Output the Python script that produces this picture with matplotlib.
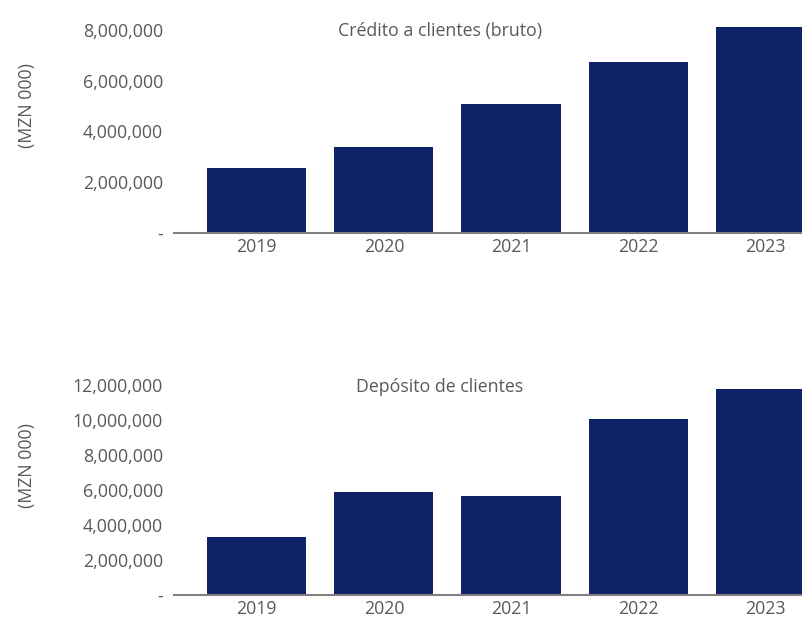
import matplotlib.pyplot as plt
from matplotlib.ticker import FuncFormatter

years = ["2019", "2020", "2021", "2022", "2023"]
credito = [2560000, 3390000, 5080000, 6740000, 8100000]
depositos = [3310000, 5890000, 5660000, 10080000, 11750000]

credito_ticks = [0, 2000000, 4000000, 6000000, 8000000]
deposito_ticks = [0, 2000000, 4000000, 6000000, 8000000, 10000000, 12000000]

BAR = "#0f2167"
TXT = "#595959"
FS = 12.8

plt.rcParams["font.family"] = ["Open Sans", "DejaVu Sans"]

W, H = 803, 618
fig = plt.figure(figsize=(W / 100, H / 100), dpi=100)


def fmt(v, pos):
    return "-" if v == 0 else f"{v:,.0f}"


def panel(bottom_px, top_px, values, ticks, ymax, title, title_y, label_y):
    ax = fig.add_axes([174 / W, 1 - bottom_px / H, 1 - 174 / W, (bottom_px - top_px) / H])
    x = range(len(years))
    ax.bar(x, values, width=0.78, color=BAR, zorder=2)
    ax.set_xlim(-0.65, 4.295)
    ax.set_ylim(0, ymax)
    ax.set_yticks(ticks)
    ax.yaxis.set_major_formatter(FuncFormatter(fmt))
    ax.set_xticks(list(x))
    ax.set_xticklabels(years)
    for s in ["top", "right", "left"]:
        ax.spines[s].set_visible(False)
    ax.spines["bottom"].set_color("#808080")
    ax.spines["bottom"].set_linewidth(1.5)
    ax.spines["bottom"].set_zorder(3)
    ax.tick_params(axis="y", length=0, pad=8, labelsize=FS, labelcolor=TXT)
    ax.tick_params(axis="x", length=0, pad=3.5, labelsize=FS, labelcolor=TXT)
    fig.text(440 / W, 1 - title_y / H, title, ha="center", va="center",
             fontsize=FS, color=TXT)
    fig.text(27 / W, 1 - label_y / H, "(MZN 000)", ha="center", va="center",
             rotation=90, fontsize=FS, color=TXT)
    return ax


panel(233, 19.8, credito, credito_ticks, 8400000,
      "Crédito a clientes (bruto)", 31, 105)
panel(595, 378, depositos, deposito_ticks, 12400000,
      "Depósito de clientes", 387, 465)

fig.savefig("out.png", dpi=100)
